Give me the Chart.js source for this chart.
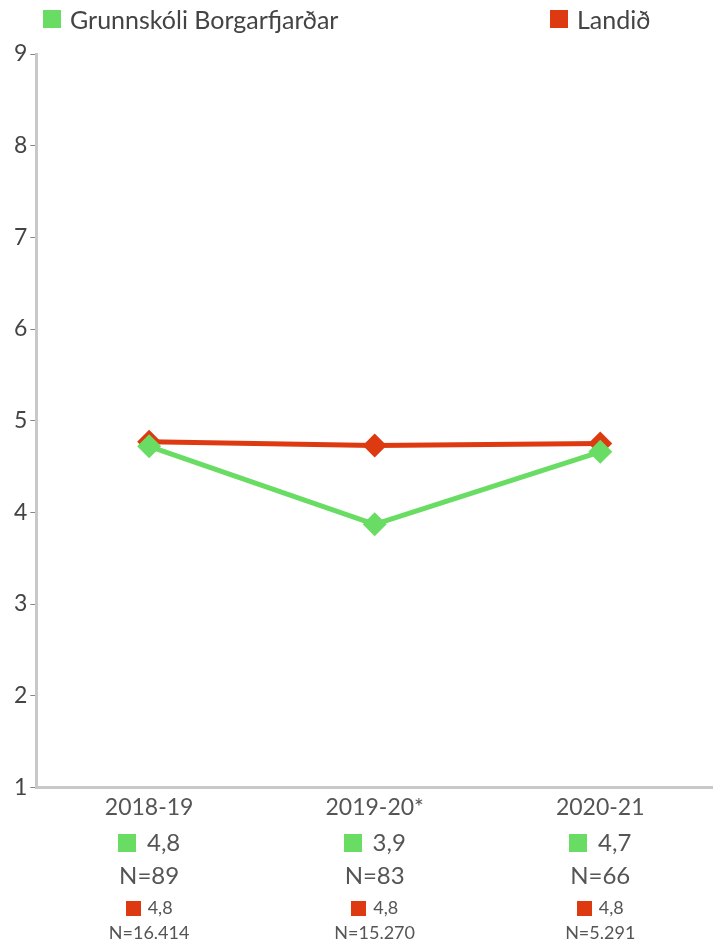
<!DOCTYPE html>
<html>
<head>
<meta charset="utf-8">
<script src="https://cdn.jsdelivr.net/npm/chart.js@4.4.1/dist/chart.umd.min.js"></script>
<style>
  html, body { margin: 0; padding: 0; background: #fff; }
  #wrap { position: relative; width: 713px; height: 944px; }
  canvas { position: absolute; left: 0; top: 0; }
  .legend-item { position: absolute; top: 4px; font: 25px Lato, sans-serif; color: #444; display: flex; align-items: center; white-space: nowrap; }
  .legend-item span.box { display: inline-block; width: 18px; height: 18px; margin-right: 9px; }
</style>
</head>
<body>
<div id="wrap">
  <canvas id="chart" width="713" height="944"></canvas>
</div>
<script>
// Values
const categories = ["2018-19", "2019-20*", "2020-21"];
const seriesNames = ["Grunnskóli Borgarfjarðar", "Landið"];
const schoolValues = [4.72, 3.87, 4.66];
const countryValues = [4.77, 4.73, 4.75];
const schoolMeanLabels = ["4,8", "3,9", "4,7"];
const schoolCounts = ["N=89", "N=83", "N=66"];
const countryMeanLabels = ["4,8", "4,8", "4,8"];
const countryCounts = ["N=16.414", "N=15.270", "N=5.291"];
const yTicks = [1, 2, 3, 4, 5, 6, 7, 8, 9];

const GREEN = "#69dd63";
const RED = "#dd3a12";
const TEXT = "#555";
const FONT = "Lato, sans-serif";

// html legend, same spots as the original
const legendLeft = [43, 550];
[GREEN, RED].forEach((c, i) => {
  const el = document.createElement("div");
  el.className = "legend-item";
  el.style.left = legendLeft[i] + "px";
  el.innerHTML = `<span class="box" style="background:${c}"></span>${seriesNames[i]}`;
  document.getElementById("wrap").appendChild(el);
});

// rows of means and N under each category label
const infoRows = {
  id: "infoRows",
  afterDraw(chart) {
    const ctx = chart.ctx;
    const xs = chart.scales.x;
    const base = chart.chartArea.bottom;
    ctx.save();
    ctx.textBaseline = "middle";
    categories.forEach((c, i) => {
      const x = xs.getPixelForValue(i);
      drawSwatchRow(ctx, x, base + 56, GREEN, 18, 11, schoolMeanLabels[i], 24);
      ctx.font = "24px " + FONT;
      ctx.textAlign = "center";
      ctx.fillStyle = TEXT;
      ctx.fillText(schoolCounts[i], x, base + 89);
      drawSwatchRow(ctx, x, base + 121, RED, 15, 7, countryMeanLabels[i], 18);
      ctx.font = "18px " + FONT;
      ctx.textAlign = "center";
      ctx.fillStyle = TEXT;
      ctx.fillText(countryCounts[i], x, base + 146);
    });
    ctx.restore();
  },
};

function drawSwatchRow(ctx, x, y, color, size, gap, text, fontSize) {
  ctx.font = fontSize + "px " + FONT;
  const w = ctx.measureText(text).width;
  const start = x - (size + gap + w) / 2;
  ctx.fillStyle = color;
  ctx.fillRect(Math.round(start), Math.round(y - size / 2), size, size);
  ctx.fillStyle = TEXT;
  ctx.textAlign = "left";
  ctx.fillText(text, start + size + gap, y);
}

new Chart(document.getElementById("chart"), {
  type: "line",
  data: {
    labels: categories,
    datasets: [
      {
        label: seriesNames[0],
        data: schoolValues,
        borderColor: GREEN,
        backgroundColor: GREEN,
        borderWidth: 5,
        pointStyle: "rectRot",
        pointRadius: 12,
        pointBorderWidth: 0,
        tension: 0,
      },
      {
        label: seriesNames[1],
        data: countryValues,
        borderColor: RED,
        backgroundColor: RED,
        borderWidth: 5,
        pointStyle: "rectRot",
        pointRadius: 12,
        pointBorderWidth: 0,
        tension: 0,
      },
    ],
  },
  options: {
    responsive: false,
    animation: false,
    layout: { autoPadding: false, padding: { top: 54, left: 11, right: 0, bottom: 117 } },
    plugins: { legend: { display: false }, tooltip: { enabled: false } },
    scales: {
      x: {
        offset: true,
        afterFit(scale) { scale.paddingLeft = 0; scale.paddingRight = 0; },
        grid: { display: false, drawTicks: false },
        border: { color: "#c8c8c8", width: 3 },
        ticks: { color: TEXT, font: { size: 23, family: FONT }, padding: 6 },
      },
      y: {
        min: 1,
        max: 9,
        afterBuildTicks(axis) { axis.ticks = yTicks.map((v) => ({ value: v })); },
        grid: { drawOnChartArea: false, drawTicks: true, tickLength: 6, color: "#888" },
        border: { color: "#c8c8c8", width: 3 },
        ticks: { color: "#444", font: { size: 23, family: FONT }, padding: 3 },
      },
    },
  },
  plugins: [infoRows],
});
</script>
</body>
</html>
